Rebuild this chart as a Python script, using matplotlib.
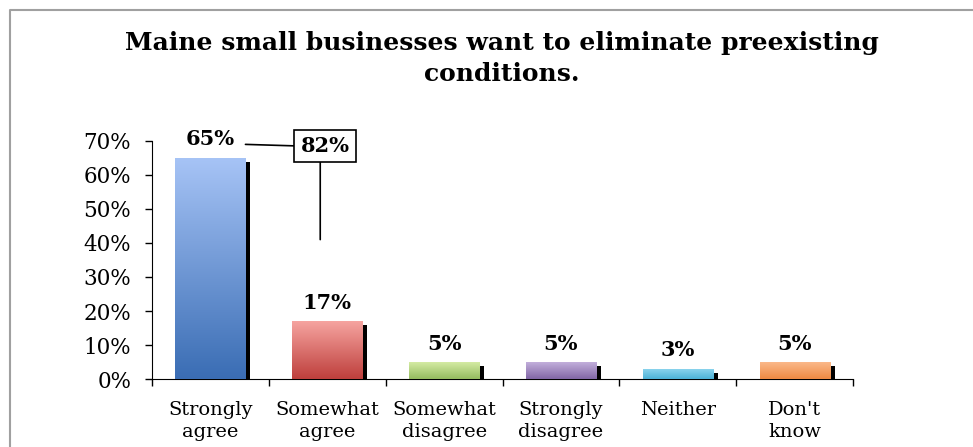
import matplotlib
matplotlib.use('Agg')
import matplotlib.pyplot as plt
import matplotlib.patheffects as pe
from matplotlib.colors import LinearSegmentedColormap
from matplotlib.lines import Line2D
import numpy as np

title = 'Maine small businesses want to eliminate preexisting\nconditions.'
categories = ['Strongly\nagree', 'Somewhat\nagree', 'Somewhat\ndisagree',
              'Strongly\ndisagree', 'Neither', "Don't\nknow"]
values = [0.65, 0.17, 0.05, 0.05, 0.03, 0.05]
labels = ['65%', '17%', '5%', '5%', '3%', '5%']
top_colors = ['#a7c4f6', '#f6a4a0', '#d8eea8', '#c6b3de', '#90d6ee', '#fbbb8e']
bottom_colors = ['#3a6db4', '#be3f3c', '#94bb5e', '#8166a6', '#4cb2d8', '#ef8a42']
callout_text = '82%'  # agree total = 65% + 17%
callout_x, callout_y = 0.98, 0.685
callout_line_end = 0.41

plt.rcParams['font.family'] = ['DejaVu Serif']

fig = plt.figure(figsize=(9.73, 4.47), dpi=100)
ax = fig.add_axes([0.1562, 0.1521, 0.7205, 0.5325])

x = np.arange(len(categories))
bars = ax.bar(x, values, width=0.6, color=bottom_colors, zorder=2)

shadow = [pe.SimplePatchShadow(offset=(3.6, -2.9), shadow_rgbFace='black', alpha=1.0), pe.Normal()]
grad = np.linspace(0, 1, 256).reshape(-1, 1)
for b, c_top, c_bot in zip(bars, top_colors, bottom_colors):
    b.set_path_effects(shadow)
    cmap = LinearSegmentedColormap.from_list('g', [c_top, c_bot])
    bx, by = b.get_x(), b.get_y()
    im = ax.imshow(grad, cmap=cmap, aspect='auto', zorder=3,
                   extent=[bx, bx + b.get_width(), by, by + b.get_height()], origin='upper')
    im.set_clip_path(b)
ax.set_xlim(-0.5, len(categories) - 0.5)
ax.set_ylim(0, 0.7)

for xi, v, lab in zip(x, values, labels):
    ax.text(xi, v + 0.025, lab, ha='center', va='bottom', fontsize=15,
            fontweight='bold', clip_on=False)

# callout: sum of agree
ax.annotate('', xy=(0.3, 0.69), xytext=(callout_x - 0.2, callout_y),
            arrowprops=dict(arrowstyle='-', color='black', lw=1.2, shrinkA=0, shrinkB=0),
            annotation_clip=False)
ax.annotate('', xy=(callout_x - 0.04, callout_line_end), xytext=(callout_x - 0.04, callout_y - 0.04),
            arrowprops=dict(arrowstyle='-', color='black', lw=1.2, shrinkA=0, shrinkB=0),
            annotation_clip=False)
ax.text(callout_x, callout_y, callout_text, ha='center', va='center', fontsize=15,
        fontweight='bold', zorder=5, clip_on=False,
        bbox=dict(boxstyle='square,pad=0.3', facecolor='white', edgecolor='black', lw=1.2))

ax.spines['top'].set_visible(False)
ax.spines['right'].set_visible(False)
ax.set_yticks(np.arange(0, 0.71, 0.1))
ax.set_yticklabels([f'{int(round(t * 100))}%' for t in np.arange(0, 0.71, 0.1)])
ax.tick_params(axis='y', direction='out', length=5, width=1, pad=10, labelsize=15.5)
ax.set_xticks(x)
ax.set_xticklabels(categories, fontsize=14, linespacing=1.25)
ax.tick_params(axis='x', which='major', length=0, pad=16)
ax.set_xticks(np.arange(-0.5, len(categories)), minor=True)
ax.tick_params(axis='x', which='minor', direction='out', length=5, width=1)

fig.text(0.516, 0.93, title, ha='center', va='top', fontsize=18, fontweight='bold',
         linespacing=1.35)

# chart frame (top/left visible)
fig.add_artist(Line2D([10 / 973, 10 / 973, 1], [0, 1 - 10 / 447, 1 - 10 / 447],
                      color='#a0a0a0', lw=1.5))

fig.savefig('out.png', dpi=100)
